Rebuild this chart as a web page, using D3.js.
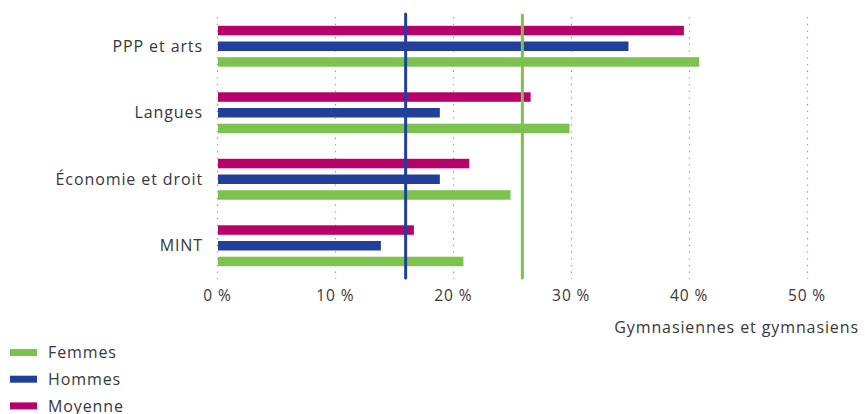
<!DOCTYPE html>
<html>
<head>
<meta charset="utf-8">
<script src="https://cdn.jsdelivr.net/npm/d3@7"></script>
<style>
  html, body { margin: 0; padding: 0; background: #fff; }
  svg text { font-family: "Open Sans", sans-serif; fill: #383838; letter-spacing: 0.9px; }
</style>
</head>
<body>
<svg id="chart" width="865" height="414"></svg>
<script>
// Fields of study and shares (%) of upper secondary students
const categories = ["PPP et arts", "Langues", "Économie et droit", "MINT"];
const seriesNames = ["Moyenne", "Hommes", "Femmes"];
const moyenne = [39.6, 26.6, 21.4, 16.7];
const hommes  = [34.9, 18.9, 18.9, 13.9];
const femmes  = [40.9, 29.9, 24.9, 20.9];
// Overall averages shown as vertical reference lines
const avgHommes = 16.0;
const avgFemmes = 25.9;
const xTicks = [0, 10, 20, 30, 40, 50];
const xTitle = "Gymnasiennes et gymnasiens";
const legendItems = ["Femmes", "Hommes", "Moyenne"];

const colors = { Femmes: "#7dc24f", Hommes: "#22409a", Moyenne: "#b8006b" };
const valuesBySeries = { Moyenne: moyenne, Hommes: hommes, Femmes: femmes };

const svg = d3.select("#chart");

const x = d3.scaleLinear().domain([0, 50]).range([217, 806.5]);
const y = d3.scaleBand().domain(categories).range([13, 279]).padding(0);
const yInner = d3.scaleBand().domain(seriesNames)
  .range([-23.6, 23.6]).paddingInner(0.395).paddingOuter(0.2);

// dotted vertical gridlines
svg.append("g").selectAll("line").data(xTicks).join("line")
  .attr("x1", d => Math.round(x(d)) + 0.5).attr("x2", d => Math.round(x(d)) + 0.5)
  .attr("y1", 17).attr("y2", 279)
  .attr("stroke", "#9a9a9a").attr("stroke-width", 1.2)
  .attr("stroke-dasharray", "1.3,5.4");

// bars
const rows = [];
categories.forEach((c, i) => {
  seriesNames.forEach(s => rows.push({ cat: c, series: s, value: valuesBySeries[s][i] }));
});
svg.append("g").selectAll("rect").data(rows).join("rect")
  .attr("x", x(0) + 1)
  .attr("y", d => y(d.cat) + y.bandwidth() / 2 + yInner(d.series))
  .attr("width", d => x(d.value) - x(0) - 1)
  .attr("height", yInner.bandwidth())
  .attr("fill", d => colors[d.series]);

// average reference lines
const refs = [{ v: avgHommes, c: colors.Hommes, y1: 14 }, { v: avgFemmes, c: colors.Femmes, y1: 15 }];
svg.append("g").selectAll("line").data(refs).join("line")
  .attr("x1", d => x(d.v)).attr("x2", d => x(d.v))
  .attr("y1", d => d.y1).attr("y2", 278)
  .attr("stroke", d => d.c).attr("stroke-width", 3).attr("stroke-linecap", "round");

// category axis labels
const yAxis = d3.axisLeft(y).tickSize(0).tickPadding(0);
const gy = svg.append("g").attr("transform", "translate(203,0)").call(yAxis);
gy.select(".domain").remove();
gy.selectAll("text").attr("font-size", 16).attr("fill", "#383838")
  .style("font-family", '"Open Sans", sans-serif').attr("dy", "0.35em");

// value axis labels
const xAxis = d3.axisBottom(x).tickValues(xTicks).tickSize(0).tickPadding(0)
  .tickFormat(d => d + " %");
const gx = svg.append("g").attr("transform", "translate(0,296)").call(xAxis);
gx.select(".domain").remove();
gx.selectAll("text").attr("font-size", 15.5).attr("fill", "#383838")
  .style("font-family", '"Open Sans", sans-serif').attr("dy", "0.35em");

svg.append("text").attr("x", 859).attr("y", 327).attr("dy", "0.35em")
  .attr("text-anchor", "end").attr("font-size", 16).text(xTitle);

// legend
const lg = svg.append("g").selectAll("g").data(legendItems).join("g")
  .attr("transform", (d, i) => `translate(10,${352.5 + i * 26.7})`);
lg.append("rect").attr("x", 0).attr("y", -3.5).attr("width", 27).attr("height", 7)
  .attr("fill", d => colors[d]);
lg.append("text").attr("x", 38).attr("y", 0).attr("dy", "0.35em")
  .attr("font-size", 16).text(d => d);
</script>
</body>
</html>
